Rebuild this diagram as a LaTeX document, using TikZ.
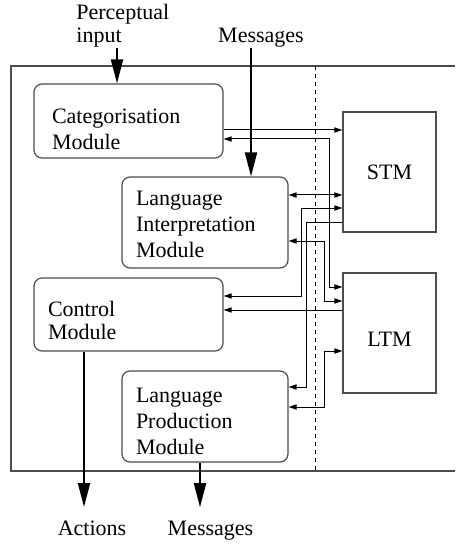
\documentclass[tikz,border=0pt]{standalone}
\usepackage{fontspec}
\setmainfont{Liberation Serif}
\usepackage{tikz}
\usetikzlibrary{arrows.meta}
\definecolor{boxgray}{gray}{0.3}

\tikzset{
  module/.style={draw=boxgray,line width=0.6pt,rounded corners=4pt,align=left,inner xsep=7pt,inner ysep=0pt,font=\fontsize{11}{13}\selectfont},
  store/.style={draw=boxgray,line width=0.6pt,minimum width=46.5pt,minimum height=60pt,font=\fontsize{11}{13}\selectfont},
  lbl/.style={inner sep=0pt,font=\fontsize{11}{11.5}\selectfont},
  flow/.style={line width=1pt,-{Triangle[length=12pt,width=6pt]}},
  link/.style={line width=0.5pt,-{Triangle[length=4pt,width=2.6pt]}},
  linkboth/.style={line width=0.5pt,{Triangle[length=4pt,width=2.6pt]}-{Triangle[length=4pt,width=2.6pt]}}
}
\newcommand{\lift}[1]{\rule{0pt}{#1}}

\begin{document}
\begin{tikzpicture}[x=0.5pt,y=-0.5pt]
\useasboundingbox (0,0) rectangle (455,545);
% outer frame and divider
\draw[draw=boxgray,line width=0.8pt] (455,66) -- (11,66) -- (11,471) -- (455,471);
\draw[line width=0.5pt,dash pattern=on 2pt off 2pt] (315,66) -- (315,471);

\node[module,inner xsep=9pt,text width=76.5pt,minimum height=37pt] (cat) at (128.5,121) {\lift{15.5pt}Categorisation\\Module};
\node[module,text width=69pt,minimum height=45.5pt] (li) at (205,222.5) {\lift{9.5pt}Language\\Interpretation\\Module};
\node[module,text width=80.5pt,minimum height=36.5pt] (ctrl) at (128.5,314.5) {\lift{13.5pt}Control\\[-1.5pt]Module};
\node[module,text width=69pt,minimum height=45.5pt] (lp) at (205,416.5) {\lift{12.5pt}Language\\Production\\Module};
\node[store] (stm) at (389.5,172) {STM};
\node[store] (ltm) at (389.5,333) {\lift{13.8pt}LTM};

\node[lbl,align=left,anchor=south west] (percept) at (76,48) {Perceptual\\input};
\node[lbl,anchor=south] (msgin) at (261,48) {Messages};
\node[lbl,inner ysep=6.5pt,anchor=base] (actions) at (92,535) {Actions};
\node[lbl,inner ysep=6.5pt,anchor=base] (msgout) at (210.5,535) {Messages};

% inputs and outputs
\draw[flow] (percept.south -| 117,0) -- (cat.north -| 117,0);
\draw[flow] (msgin.south -| 251,0) -- (li.north -| 251,0);
\draw[flow] (ctrl.south -| 84,0) -- (actions.north -| 84,0);
\draw[flow] (lp.south -| 200,0) -- (msgout.north -| 200,0);

% memory links
\draw[link] (cat.east |- 0,130) -- (stm.west |- 0,130);
\draw[linkboth] (cat.east |- 0,139) -| (329,287) -- (ltm.west |- 0,287);
\draw[linkboth] (li.east |- 0,195) -- (stm.west |- 0,195);
\draw[linkboth] (ctrl.east |- 0,296) -| (301,208) -- (stm.west |- 0,208);
\draw[link] (stm.west |- 0,222) -| (306,387) -- (lp.east |- 0,387);
\draw[linkboth] (li.east |- 0,241) -| (324,301) -- (ltm.west |- 0,301);
\draw[link] (ltm.west |- 0,310) -- (ctrl.east |- 0,310);
\draw[linkboth] (lp.east |- 0,407) -| (324,351) -- (ltm.west |- 0,351);
\end{tikzpicture}
\end{document}
